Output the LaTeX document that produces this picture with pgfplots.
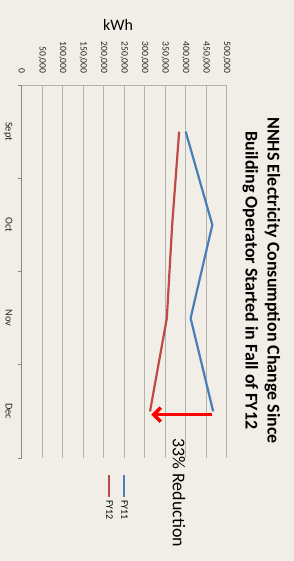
\documentclass[border=0pt]{standalone}
\usepackage{pgfplots}
\pgfplotsset{compat=1.18}
\usepackage{fontspec}
\setmainfont{Carlito}
\usetikzlibrary{arrows.meta}
\definecolor{bg}{HTML}{F0EEE6}
\definecolor{fyone}{HTML}{4A7EBB}
\definecolor{fytwo}{HTML}{BE4B48}
\definecolor{gridc}{HTML}{B4B2AC}
\definecolor{axisc}{HTML}{8A8884}
\pgfplotstableread{
x kwh
0.5 400000
1.5 465000
2.5 412000
3.5 467000
}\fyeleven
\pgfplotstableread{
x kwh
0.5 384000
1.5 367000
2.5 354000
3.5 313000
}\fytwelve
\begin{document}
\begin{tikzpicture}[rotate=-90,transform shape]
\fill[bg] (0,0) rectangle (561bp,294bp);
\begin{axis}[
  at={(85bp,21.7bp)}, anchor=south west,
  scale only axis, width=373bp, height=205bp,
  xmin=0, xmax=4, ymin=0, ymax=500000,
  xtick={0.5,1.5,2.5,3.5},
  xticklabels={Sept,Oct,Nov,Dec},
  minor xtick={0,1,2,3,4},
  major x tick style={draw=none},
  minor x tick style={axisc, line width=0.8bp},
  minor tick length=4bp,
  tick align=outside,
  ytick distance=50000,
  major y tick style={draw=none},
  ymajorgrids,
  y grid style={gridc, line width=0.8bp},
  axis x line*=bottom, axis y line*=left,
  x axis line style={-, axisc, line width=0.9bp},
  y axis line style={-, gridc, line width=0.8bp},
  scaled y ticks=false,
  /pgf/number format/.cd, fixed, 1000 sep={,}, assume math mode=true,
  /pgfplots/.cd,
  tick label style={font=\fontsize{9.7}{11}\selectfont, text=black!85},
  yticklabel style={xshift=-4bp},
  xticklabel style={yshift=-1.5bp, font=\fontsize{10.5}{12}\selectfont},
  ylabel={kWh},
  ylabel style={at={(axis description cs:-0.16,0.47)}, rotate=0, anchor=center, font=\fontsize{16}{18}\selectfont},
  title={NNHS Electricity Consumption Change Since\\Building Operator Started in Fall of FY12},
  title style={at={(axis description cs:0.5,1)}, anchor=south, yshift=6.5bp, xshift=9bp, align=center, font=\bfseries\fontsize{18}{22}\selectfont},
  legend style={at={(axis description cs:1,0.462)}, anchor=west, xshift=13bp, draw=none, fill=none,
    font=\fontsize{10}{12}\selectfont, row sep=3bp},
  legend cell align=left,
  legend image code/.code={\draw[#1] (0bp,0bp) -- (22bp,0bp);},
  clip=false,
]
\addplot[fyone, line width=2.2bp] table[x=x, y=kwh] {\fyeleven};
\addlegendentry{FY11}
\addplot[fytwo, line width=2.2bp] table[x=x, y=kwh] {\fytwelve};
\addlegendentry{FY12}
\addplot[red, line width=3.5bp, -{Straight Barb[length=7bp,width=14bp]}, forget plot] coordinates {(3.535,465000) (3.535,316000)};
\node[anchor=base west, font=\fontsize{18}{22}\selectfont, inner sep=0pt] at (axis cs:3.786,369000) {33\% Reduction};
\end{axis}
\end{tikzpicture}
\end{document}
